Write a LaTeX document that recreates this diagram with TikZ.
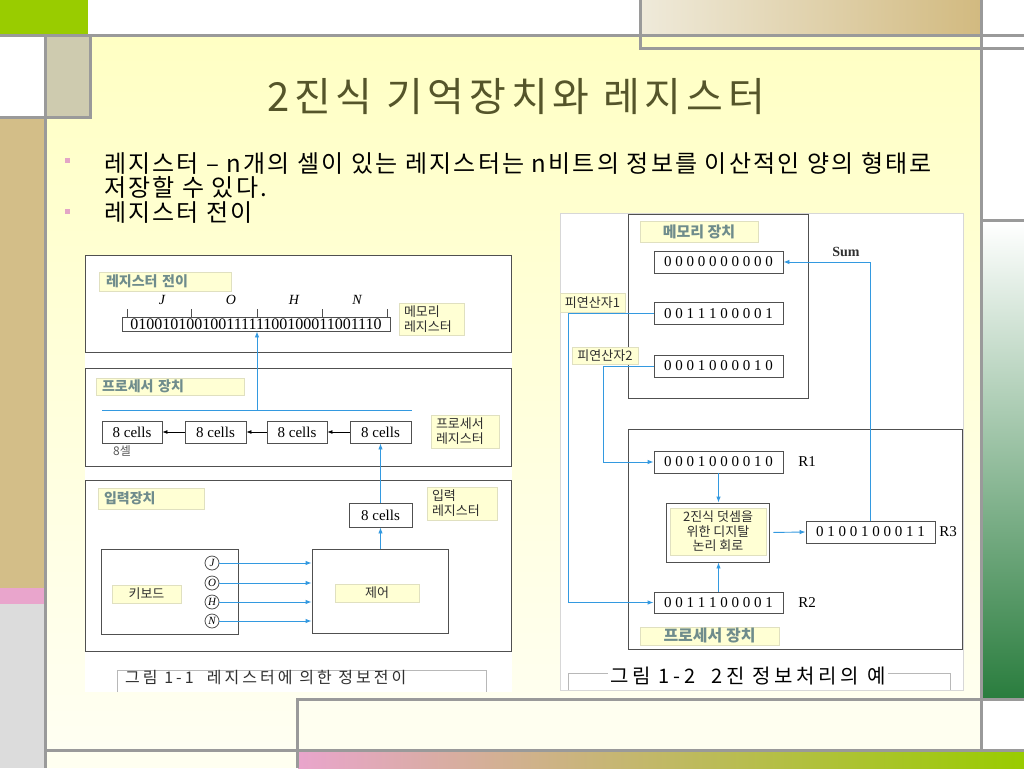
\documentclass[tikz,border=0pt]{standalone}
\usepackage{fontspec}
\setmainfont{Liberation Serif}
\newfontfamily\kr{Noto Sans CJK KR}
\newfontfamily\krT{Noto Sans CJK KR}[LetterSpace=12]
\newfontfamily\krB{Noto Sans CJK KR}[LetterSpace=9]
\newfontfamily\krC{Noto Sans CJK KR}[LetterSpace=19]
\newfontfamily\krD{Noto Sans CJK KR}[LetterSpace=18]
\usetikzlibrary{arrows.meta}
\definecolor{lineg}{HTML}{9A9A9A}
\definecolor{sgreen}{HTML}{99CC00}
\definecolor{tanL}{HTML}{EFEADA}
\definecolor{tanR}{HTML}{D2BA80}
\definecolor{tanblock}{HTML}{CECBAF}
\definecolor{tanleft}{HTML}{D3BE88}
\definecolor{spink}{HTML}{E9A5CC}
\definecolor{lgray}{HTML}{DCDCDC}
\definecolor{ytop}{HTML}{FFFFC4}
\definecolor{ybot}{HTML}{FFFFF2}
\definecolor{ypale}{HTML}{FFFFF0}
\definecolor{gmid}{HTML}{A8BFA8}
\definecolor{gdark}{HTML}{2A7D3E}
\definecolor{titlec}{HTML}{55552A}
\definecolor{ablue}{HTML}{3399E0}
\definecolor{pgray}{HTML}{505050}
\definecolor{lblfill}{HTML}{FFFFD4}
\definecolor{lbldraw}{HTML}{E0E0C0}
\definecolor{lbltext}{HTML}{6F8C8C}
\definecolor{dtext}{HTML}{303030}
\definecolor{bulc}{HTML}{E3A6C6}
\newcommand\fsz[2]{\fontsize{#1}{#2}\selectfont}
\tikzset{
  bgline/.style={draw=lineg, line width=3pt},
  sz/.style 2 args={minimum width=#1, minimum height=#2},
  panel/.style={draw=pgray, line width=0.9pt, inner sep=0},
  reg/.style={draw=pgray, line width=0.9pt, fill=white, inner sep=0, font=\fsz{15}{17}},
  lbl/.style={fill=lblfill, draw=lbldraw, line width=0.4pt, inner sep=0, text=lbltext, font=\kr\bfseries\fsz{14}{16}},
  lbld/.style={fill=lblfill, draw=lbldraw, line width=0.4pt, inner sep=0, text=dtext, font=\kr\fsz{13}{15}},
  barrow/.style={draw=ablue, line width=0.9pt, -{Latex[length=6pt,width=4.5pt]}},
  bline/.style={draw=ablue, line width=0.9pt},
  karrow/.style={draw=black, line width=0.7pt, -{Latex[length=5pt,width=4pt]}},
  circ/.style={circle, draw=pgray, line width=0.8pt, inner sep=0, minimum size=14, font=\itshape\fsz{11}{12}},
  capline/.style={draw=lineg!70, line width=0.8pt},
  bul/.style={fill=bulc, inner sep=0, minimum size=5},
  btext/.style={anchor=west, inner sep=0, font=\krB\fsz{24}{28}, text=black},
}
\begin{document}
\begin{tikzpicture}[x=1pt,y=-1pt]
\useasboundingbox (0,0) rectangle (1024,768);
% ---------- slide background ----------
\fill[white] (0,0) rectangle (1024,768);
\fill[sgreen] (0,0) rectangle (88,34);
\shade[left color=tanL, right color=tanR] (641,0) rectangle (980,34);
\shade[top color=ytop, bottom color=ybot] (46,37) rectangle (980,749);
\fill[tanblock] (46,37) rectangle (89,116);
\fill[tanleft] (0,118) rectangle (44,588);
\fill[spink] (0,588) rectangle (44,604);
\fill[lgray] (0,604) rectangle (44,768);
\fill[ypale] (46,751) rectangle (297,768);
\shade[left color=spink, right color=sgreen] (298,752) rectangle (1024,768);
\fill[ypale] (297,699) rectangle (981,750);
\shade[top color=white, middle color=gmid, bottom color=gdark] (983,222) rectangle (1024,698);
\draw[bgline] (0,35.5) -- (1024,35.5);
\draw[bgline] (45,35) -- (45,768);
\draw[bgline] (90,35) -- (90,118.5);
\draw[bgline] (0,117) -- (91.5,117);
\draw[bgline] (640,0) -- (640,49) -- (1024,49);
\draw[bgline] (981.5,0) -- (981.5,751);
\draw[bgline] (981,220) -- (1024,220);
\draw[bgline] (297,768) -- (297,699) -- (1024,699);
\draw[bgline] (45,750.5) -- (1024,750.5);
% ---------- title and bullets ----------
\node[font=\krT\fsz{40}{48}, text=titlec] (title) at (516,97) {2진식 기억장치와 레지스터};
\node[bul] (q1) at (67,160) {};
\node[bul] (q2) at (67,211) {};
\node[btext] (b1a) at (104,163) {레지스터 – n개의 셀이 있는 레지스터는 n비트의 정보를 이산적인 양의 형태로};
\node[btext] (b1b) at (104,187) {저장할 수 있다.};
\node[btext] (b2) at (104,213) {레지스터 전이};
% ---------- figure 1-1 ----------
\fill[white] (85,255) rectangle (512,692);
\node[panel, sz={426}{97}] (p1) at (298,303.5) {};
\node[lbl, minimum height=19, text width=118, inner xsep=7, align=left] (l1) at (165,281.5) {레지스터 전이};
\node[font=\itshape\fsz{14}{16}] (lJ) at (162,300) {J};
\node[font=\itshape\fsz{14}{16}] (lO) at (231,300) {O};
\node[font=\itshape\fsz{14}{16}] (lH) at (294,300) {H};
\node[font=\itshape\fsz{14}{16}] (lN) at (357,300) {N};
\node[reg, sz={268}{14}, font=\fsz{16}{17}] (reg1) at (256,324) {01001010010011111100100011001110};
\foreach \x in {127,191,257,322,387} \draw[pgray, line width=0.8pt] (\x,309) -- (\x,317);
\node[lbld, minimum height=32, text width=55, inner xsep=5, align=left] (lmr) at (431.5,319) {메모리\\레지스터};
\node[panel, sz={426}{98}] (p2) at (298,417) {};
\node[lbl, minimum height=17, text width=136, inner xsep=6, align=left] (l2) at (170,386.5) {프로세서 장치};
\coordinate (busL) at (102,410);
\coordinate (busR) at (412,410);
\coordinate (busJ) at (257,410);
\draw[bline] (busL) -- (busR);
\draw[barrow] (busJ) -- (busJ |- reg1.south);
\node[reg, sz={60}{22}] (c1) at (132,432) {8 cells};
\node[reg, sz={61}{22}] (c2) at (215.5,432) {8 cells};
\node[reg, sz={60}{22}] (c3) at (297,432) {8 cells};
\node[reg, sz={61}{22}] (c4) at (380.5,432) {8 cells};
\draw[karrow] (c4.west) -- (c3.east);
\draw[karrow] (c3.west) -- (c2.east);
\draw[karrow] (c2.west) -- (c1.east);
\node[font=\kr\fsz{12}{14}, text=dtext!80] (cell8) at (122,451) {8셀};
\node[lbld, minimum height=33, text width=58, inner xsep=5, align=left] (lpr) at (465,431.5) {프로세서\\레지스터};
\node[panel, sz={426}{171}] (p3) at (298,565.5) {};
\node[lbl, minimum height=21, text width=94, inner xsep=6, align=left] (l3) at (151,498.5) {입력장치};
\node[reg, sz={63}{24}] (in8) at (380.5,515) {8 cells};
\node[lbld, minimum height=33, text width=60, inner xsep=5, align=left] (lir) at (462,503.5) {입력\\레지스터};
\draw[barrow] (in8.north) -- (c4.south);
\node[panel, sz={137}{85}] (kbd) at (169.5,591.5) {};
\node[lbld, sz={69}{18}] (kbdl) at (146.5,594) {키보드};
\node[panel, sz={136}{84}] (ctrl) at (380,591) {};
\node[lbld, sz={84}{18}] (ctrll) at (377,593) {제어};
\node[circ] (cJ) at (212,563) {J};
\node[circ] (cO) at (212,583) {O};
\node[circ] (cH) at (212,602) {H};
\node[circ] (cN) at (212,621) {N};
\draw[barrow] (cJ.east) -- (cJ.east -| ctrl.west);
\draw[barrow] (cO.east) -- (cO.east -| ctrl.west);
\draw[barrow] (cH.east) -- (cH.east -| ctrl.west);
\draw[barrow] (cN.east) -- (cN.east -| ctrl.west);
\draw[barrow] (ctrl.north -| in8.south) -- (in8.south);
\draw[capline] (117,692) |- (486,670) -- (486,692);
\node[anchor=west, inner sep=0, font=\krC\fsz{16}{18}, text=dtext] (cap1) at (125,678) {그림 1-1~~레지스터에 의한 정보전이};
% ---------- figure 1-2 ----------
\fill[white, draw=lineg!40, line width=0.5pt] (560,213) rectangle (963,690);
\node[panel, sz={180}{184}] (mem) at (718,306) {};
\node[lbl, sz={118}{21}, font=\kr\bfseries\fsz{15}{17}] (lmem) at (699,231.5) {메모리 장치};
\node[reg, sz={129}{22}] (m0) at (718.5,262) {0 0 0 0 0 0 0 0 0 0};
\node[reg, sz={129}{22}] (m1) at (718.5,313.5) {0 0 1 1 1 0 0 0 0 1};
\node[reg, sz={129}{22}] (m2) at (718.5,366) {0 0 0 1 0 0 0 0 1 0};
\node[font=\bfseries\fsz{14}{16}, text=dtext] (sum) at (846,252) {Sum};
\node[lbld, sz={65}{19}] (op1) at (592.5,302.5) {피연산자1};
\node[lbld, sz={66}{17}] (op2) at (605,355.5) {피연산자2};
\node[panel, sz={334}{220}] (proc) at (795,539) {};
\node[reg, sz={129}{22}] (R1) at (718.5,462) {0 0 0 1 0 0 0 0 1 0};
\node[font=\fsz{15}{17}] (R1t) at (807,462) {R1};
\node[panel, fill=white, sz={103}{59}] (adder) at (717.5,532.5) {};
\node[lbld, sz={96}{47}, draw=lbldraw, align=center, font=\kr\fsz{13}{14.5}] (adderl) at (718,531.5) {2진식 덧셈을\\위한 디지탈\\논리 회로};
\node[reg, sz={129}{22}] (R3) at (870.5,532) {0 1 0 0 1 0 0 0 1 1};
\node[font=\fsz{15}{17}] (R3t) at (948,532) {R3};
\node[reg, sz={129}{21}] (R2) at (718.5,602.5) {0 0 1 1 1 0 0 0 0 1};
\node[font=\fsz{15}{17}] (R2t) at (807,602.5) {R2};
\node[lbl, sz={139}{18}, font=\kr\bfseries\fsz{16}{18}] (lproc) at (709.5,636) {프로세서 장치};
\draw[barrow] (m1.west) -- ++(-85,0) |- (R2.west);
\draw[barrow] (m2.west) -- ++(-50,0) |- (R1.west);
\draw[barrow] (R3.north) |- (m0.east);
\draw[barrow] (R1.south) -- (R1.south |- adder.north);
\draw[barrow] (R2.north) -- (R2.north |- adder.south);
\draw[barrow, shorten <=4pt] (adder.east) -- (R3.west);
\draw[capline] (568,690) |- (950,673) -- (950,690);
\node[fill=white, inner xsep=2, inner ysep=0, font=\krD\fsz{20}{22}, text=black] (cap2) at (748,676) {그림 1-2~~2진 정보처리의 예};
\end{tikzpicture}
\end{document}
